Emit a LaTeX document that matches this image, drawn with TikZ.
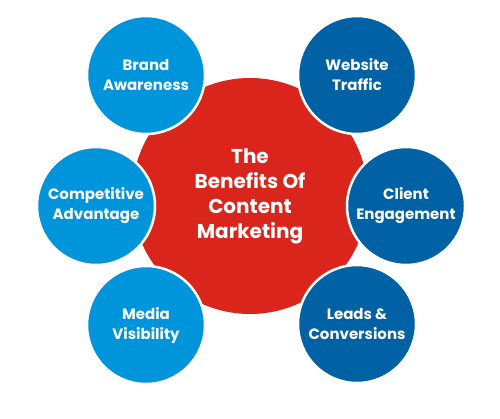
\documentclass[tikz,border=0pt]{standalone}
\usepackage{fontspec}
\setmainfont{Poppins}
\definecolor{cred}{HTML}{DA251D}
\definecolor{lblue}{HTML}{0094DA}
\definecolor{dblue}{HTML}{0061A5}
\begin{document}
\begin{tikzpicture}[x=1pt,y=-1pt,
  bubble/.style={circle, draw=white, line width=2.5pt, minimum size=118pt, inner sep=0pt,
    text=white, align=center, font=\bfseries\fontsize{15}{20}\selectfont},
  hub/.style={circle, fill=cred, minimum size=236pt, inner sep=0pt,
    text=white, align=center, font=\bfseries\fontsize{20}{25}\selectfont}]
\useasboundingbox (0,0) rectangle (500,418);
\node[hub] (c) at (250,196) {The\\Benefits Of\\Content\\Marketing};
\node[bubble, fill=lblue] (ba) at (146,75) {Brand\\Awareness};
\node[bubble, fill=dblue] (wt) at (357,75) {Website\\Traffic};
\node[bubble, fill=lblue] (ca) at (96,206) {Competitive\\Advantage};
\node[bubble, fill=dblue] (ce) at (406,206) {Client\\Engagement};
\node[bubble, fill=lblue] (mv) at (146,325) {Media\\Visibility};
\node[bubble, fill=dblue] (lc) at (357,324) {Leads \&\\Conversions};
\end{tikzpicture}
\end{document}
